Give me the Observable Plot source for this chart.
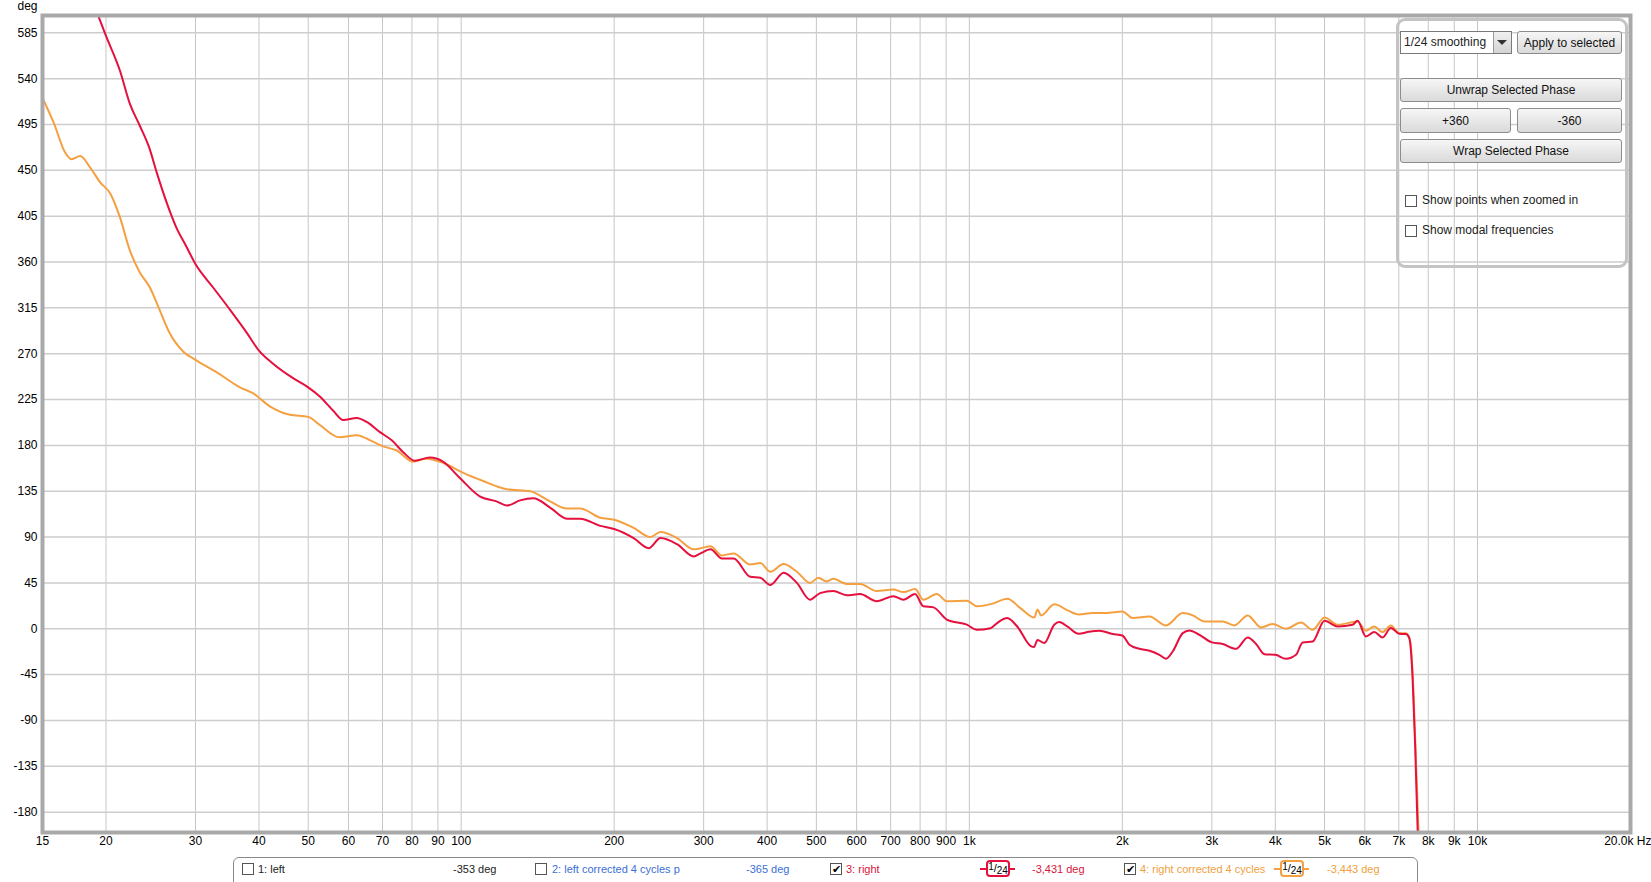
<!DOCTYPE html>
<html>
<head>
<meta charset="utf-8">
<script src="https://cdn.jsdelivr.net/npm/d3@7"></script>
<script src="https://cdn.jsdelivr.net/npm/@observablehq/plot@0.6"></script>
<style>
  html, body { margin: 0; padding: 0; background: #fff; }
  body { width: 1651px; height: 882px; overflow: hidden; position: relative; font-family: "Liberation Sans", Arial, sans-serif; }
  #chart { position: absolute; left: 0; top: 0; }
  .abs { position: absolute; box-sizing: border-box; }
  .btn { position: absolute; box-sizing: border-box; border: 1px solid #8c8c8c; border-radius: 3px;
         background: linear-gradient(#f6f6f6, #dadada); font-size: 12px; color: #111;
         display: flex; align-items: center; justify-content: center; }
  .cb { position: absolute; box-sizing: border-box; width: 12px; height: 12px; border: 1px solid #555; background: #fff;
        font-size: 11px; line-height: 10px; text-align: center; color: #000; }
  .lbl { position: absolute; font-size: 12px; color: #222; white-space: nowrap; }
  .leg { position: absolute; font-size: 11px; white-space: nowrap; top: 863px; }
  .badge { position: absolute; top: 860px; height: 17px; }
  .badge .line { position: absolute; left: 0; right: 0; top: 8px; height: 2px; }
  .badge .box { position: absolute; top: 0; height: 17px; box-sizing: border-box; border: 2px solid; border-radius: 4px; background: #fff;
                font-size: 11px; color: #000; text-align: center; line-height: 13px; white-space: nowrap; }
  .badge .n { position: relative; top: -2px; font-size: 10px; }
  .badge .d { position: relative; top: 2px; font-size: 10px; }
</style>
</head>
<body>
<div id="chart"></div>
<script>
// ---- data ----
const rightFreq = [19.3, 20, 21.3, 22.3, 23.3, 24.3, 25.2, 26.3, 27.5, 28.8, 30, 32.5, 35.1, 37.8, 40, 42.7, 46.7, 50, 52.7, 56, 58.6, 62.3, 65.2, 69.2, 73, 77, 81, 86.7, 92.1, 99.4, 108.8, 117.4, 123, 130.6, 138.7, 149.6, 161.4, 171.5, 187.9, 200, 218.5, 233.9, 246.7, 265.9, 286.8, 295.7, 309.5, 325.9, 343.7, 370.6, 387.8, 405.8, 430.9, 457.7, 485.8, 508.4, 539.9, 573.7, 609.3, 657.3, 708.7, 741.6, 782, 811.8, 850, 902.8, 988.7, 1035, 1100, 1134, 1187, 1243, 1321, 1340, 1362, 1404, 1469, 1503, 1561, 1640, 1720, 1803, 1915, 2000, 2065, 2161, 2262, 2366, 2438, 2513, 2630, 2710, 2836, 3000, 3151, 3349, 3530, 3666, 3807, 4000, 4198, 4393, 4528, 4737, 5000, 5303, 5676, 5807, 6030, 6262, 6502, 6753, 7013, 7228, 7339, 7451, 7541, 7622, 7650];
const rightDeg = [602, 582, 548, 515, 494, 473, 447, 419, 394, 375, 358, 335, 313, 291, 273, 260, 246, 237, 228, 214, 205, 207, 203, 193, 185, 173, 165, 168, 164, 148, 130, 125, 121, 126, 128, 119, 108, 108, 101, 98, 89, 79, 89, 83, 71, 74, 78, 69, 69, 51, 50, 43, 55, 45, 28.5, 35, 37, 33, 34, 27, 32, 28.5, 34, 22, 21, 9, 4, -1, 0.5, 5.6, 10.5, 2, -17, -18, -11, -14, 4, 6.6, 2, -5, -3, -2, -5.2, -6.6, -15.7, -19.7, -21.6, -25.6, -29.5, -22.3, -4.3, -1.6, -5.9, -13.4, -15, -19.7, -8.5, -15, -25, -25.6, -29.5, -25.6, -13.4, -12.5, 7.9, 2.3, 3.9, 7.9, -7.5, -3.3, -8.5, 0.7, -4.9, -5.2, -9, -48.5, -117, -196, -215];

const correctedFreq = [15, 15.8, 16.6, 17.1, 17.8, 18.6, 19.5, 20.4, 21.3, 22.3, 23.3, 24.4, 25.5, 26.7, 28.4, 30, 33, 36.7, 39, 42.1, 46, 50, 52.7, 57.6, 62.3, 66.2, 70.2, 74.7, 80.4, 85.4, 92.1, 101, 110.5, 123, 136.7, 149.6, 161.4, 171.5, 187.9, 200, 218.5, 235.6, 246.7, 265.9, 286.8, 295.7, 309.5, 325.9, 343.7, 370.6, 387.8, 405.8, 430.9, 457.7, 485.8, 504.6, 523.7, 539.9, 573.7, 609.3, 657.3, 708.7, 741.6, 782, 811.8, 862.9, 902.8, 988.7, 1035, 1117, 1187, 1262, 1342, 1362, 1383, 1470, 1561, 1640, 1749, 1858, 2000, 2097, 2262, 2438, 2630, 2752, 2902, 3151, 3322, 3530, 3749, 3951, 4198, 4493, 4737, 5000, 5303, 5807, 6030, 6262, 6502, 6753, 7013, 7228, 7372, 7486, 7566, 7657];
const correctedDeg = [521, 496, 468, 461, 464, 453, 438, 427, 404, 371, 350, 335, 313, 290, 272, 264, 252, 237, 231, 218, 210, 208, 200, 188, 190, 185, 179, 175, 164, 167, 163, 153, 145, 137, 135, 125, 118, 118, 109, 107, 99, 90, 95, 89, 78, 79, 81, 72, 74, 63, 64.5, 56, 63.5, 56, 45, 50, 46.5, 49, 44, 44, 37, 38.5, 36, 39, 28.5, 34, 27, 27.5, 22, 25, 29.5, 20, 11, 19, 13, 24, 18, 14, 15.4, 15.4, 17, 10.5, 12.1, 3.3, 15.4, 13.1, 7.2, 7.2, 3.3, 13.1, 1.3, 4.6, 0, 6.2, -1, 11.1, 3.9, 7.2, -2, 2.3, -3.3, 3.3, -4.3, -4.3, -12.5, -65, -130, -201];

const freqTicks = [15, 20, 30, 40, 50, 60, 70, 80, 90, 100, 200, 300, 400, 500, 600, 700, 800, 900, 1000, 2000, 3000, 4000, 5000, 6000, 7000, 8000, 9000, 10000];
const freqEnd = 20000;
const degTicks = [-180, -135, -90, -45, 0, 45, 90, 135, 180, 225, 270, 315, 360, 405, 450, 495, 540, 585];

const right = rightFreq.map((f, i) => ({f, v: rightDeg[i]}));
const corrected = correctedFreq.map((f, i) => ({f, v: correctedDeg[i]}));

const fmtF = d => d < 1000 ? String(d) : (d / 1000) + "k";

const chart = Plot.plot({
  width: 1651,
  height: 852,
  marginLeft: 42,
  marginRight: 21,
  marginTop: 15,
  marginBottom: 20,
  x: {type: "log", domain: [15, freqEnd], label: null, axis: null},
  y: {domain: [-200, 602], label: null},
  style: {fontFamily: "'Liberation Sans', Arial, sans-serif", fontSize: "12px", color: "#000", background: "#fff"},
  marks: [
    Plot.gridX([...freqTicks, freqEnd], {stroke: "#c6c6c6", strokeOpacity: 1, strokeWidth: 1}),
    Plot.gridY(degTicks, {stroke: "#cdcdcd", strokeOpacity: 1, strokeWidth: 1.5}),
    Plot.line(corrected, {x: "f", y: "v", stroke: "#f5a040", strokeWidth: 2, curve: "monotone-x", clip: true}),
    Plot.line(right, {x: "f", y: "v", stroke: "#e5103e", strokeWidth: 2, curve: "monotone-x", clip: true}),
    Plot.frame({stroke: "#a9a9a9", strokeWidth: 4}),
    Plot.text(freqTicks, {x: d => d, frameAnchor: "bottom", text: fmtF, lineAnchor: "top", dy: 4, fill: "#000"}),
    Plot.axisY(degTicks, {tickSize: 0, tickPadding: 5, tickFormat: d => String(d)}),
    Plot.text(["deg"], {frameAnchor: "top-left", text: d => d, dx: -25, dy: -6, textAnchor: "start", lineAnchor: "bottom"}),
    Plot.text([freqEnd], {x: d => d, frameAnchor: "bottom", text: () => "20.0k Hz", textAnchor: "end", lineAnchor: "top", dx: 21, dy: 4})
  ]
});
document.getElementById("chart").appendChild(chart);
</script>

<!-- control panel (transparent, grid shows through) -->
<div class="abs" style="left:1396px; top:18px; width:232px; height:250px; border:3px solid #c4c4c4; border-radius:9px;"></div>
<div class="abs" style="left:1400px; top:31px; width:112px; height:23px; border:1px solid #7a7a7a; background:#fff;"></div>
<div class="lbl" style="left:1404px; top:35px;">1/24 smoothing</div>
<div class="abs" style="left:1493px; top:32px; width:18px; height:21px; background:linear-gradient(#f0f0f0,#d4d4d4); border-left:1px solid #9a9a9a;"></div>
<div class="abs" style="left:1497px; top:40px; width:0; height:0; border-left:5px solid transparent; border-right:5px solid transparent; border-top:5px solid #333;"></div>
<div class="btn" style="left:1517px; top:31px; width:105px; height:23px;">Apply to selected</div>
<div class="btn" style="left:1400px; top:78px; width:222px; height:24px;">Unwrap Selected Phase</div>
<div class="btn" style="left:1400px; top:108px; width:111px; height:25px;">+360</div>
<div class="btn" style="left:1517px; top:108px; width:105px; height:25px;">-360</div>
<div class="btn" style="left:1400px; top:139px; width:222px; height:24px;">Wrap Selected Phase</div>
<div class="cb" style="left:1405px; top:195px;"></div>
<div class="lbl" style="left:1422px; top:193px;">Show points when zoomed in</div>
<div class="cb" style="left:1405px; top:225px;"></div>
<div class="lbl" style="left:1422px; top:223px;">Show modal frequencies</div>

<!-- bottom legend -->
<div class="abs" style="left:233px; top:857px; width:1185px; height:30px; border:1px solid #8a8a8a; border-radius:6px;"></div>
<div class="cb" style="left:242px; top:863px;"></div>
<div class="leg" style="left:258px; color:#222;">1: left</div>
<div class="leg" style="left:453px; color:#222;">-353 deg</div>
<div class="cb" style="left:535px; top:863px;"></div>
<div class="leg" style="left:552px; color:#3b6fd8;">2: left corrected 4 cycles p</div>
<div class="leg" style="left:746px; color:#3b6fd8;">-365 deg</div>
<div class="cb" style="left:830px; top:863px;">&#10004;</div>
<div class="leg" style="left:846px; color:#d8143c;">3: right</div>
<div class="badge" style="left:980px; width:35px;"><div class="line" style="background:#e5103e;"></div><div class="box" style="left:6px; width:24px; border-color:#e5103e;"><span class="n">1</span>/<span class="d">24</span></div></div>
<div class="leg" style="left:1032px; color:#d8143c;">-3,431 deg</div>
<div class="cb" style="left:1124px; top:863px;">&#10004;</div>
<div class="leg" style="left:1140px; color:#f0a040;">4: right corrected 4 cycles</div>
<div class="badge" style="left:1274px; width:35px;"><div class="line" style="background:#f5a040;"></div><div class="box" style="left:6px; width:24px; border-color:#f5a040;"><span class="n">1</span>/<span class="d">24</span></div></div>
<div class="leg" style="left:1327px; color:#f0a040;">-3,443 deg</div>
</body>
</html>
